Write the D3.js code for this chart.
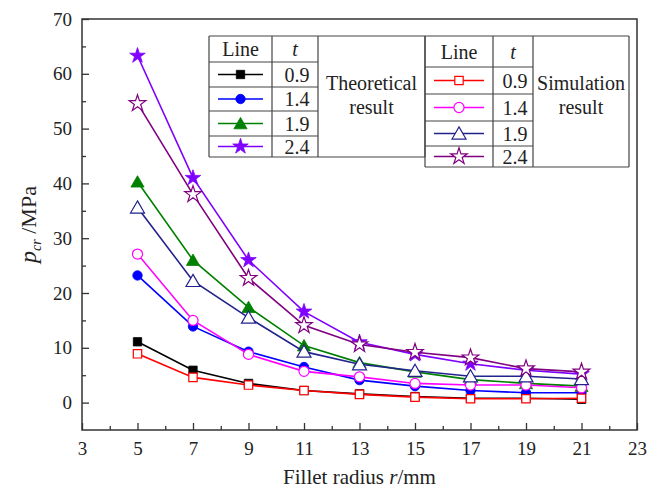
<!DOCTYPE html>
<html><head><meta charset="utf-8">
<script src="https://cdn.jsdelivr.net/npm/d3@7"></script>
<style>body{margin:0;background:#fff}svg{display:block;font-family:"Liberation Serif","Times New Roman",serif}</style>
</head><body><svg id="c" width="657" height="490"></svg>
<script>
// ---- data ----
const radii = [5, 7, 9, 11, 13, 15, 17, 19, 21];
const thicknesses = ["0.9", "1.4", "1.9", "2.4"];
const theo09 = [11.1, 5.9, 3.5, 2.2, 1.6, 1.1, 0.8, 0.8, 0.6];
const theo14 = [23.2, 13.9, 9.3, 6.5, 4.1, 3.0, 2.2, 1.8, 1.8];
const theo19 = [40.3, 26.0, 17.4, 10.4, 7.3, 5.6, 4.2, 3.5, 3.0];
const theo24 = [63.3, 41.0, 26.0, 16.6, 11.0, 8.8, 7.1, 5.9, 5.2];
const sim09 = [8.9, 4.6, 3.2, 2.2, 1.5, 1.0, 0.7, 0.7, 0.8];
const sim14 = [27.1, 15.0, 8.8, 5.7, 4.7, 3.5, 3.2, 3.2, 2.7];
const sim19 = [35.6, 22.2, 15.5, 9.3, 7.0, 5.8, 4.8, 4.8, 4.3];
const sim24 = [54.6, 38.0, 22.7, 14.1, 10.6, 9.2, 8.2, 6.2, 5.6];
const xTickValues = [3, 5, 7, 9, 11, 13, 15, 17, 19, 21, 23];
const yTickValues = [0, 10, 20, 30, 40, 50, 60, 70];
const xTitle = ["Fillet radius ", "r", "/mm"];
const yTitle = ["p", "cr", " /MPa"];
const legendHeads = ["Line", "t"];
const groupLabels = [["Theoretical", "result"], ["Simulation", "result"]];

// ---- styles ----
const theoSeries = [
  {v: theo09, c: "#000000", s: d3.symbolSquare, a: 70, fill: true},
  {v: theo14, c: "#0000ff", s: d3.symbolCircle, a: 70, fill: true},
  {v: theo19, c: "#008000", s: d3.symbolTriangle, a: 75, fill: true},
  {v: theo24, c: "#7f00ff", s: d3.symbolStar, a: 75, fill: true}
];
const simSeries = [
  {v: sim09, c: "#ff0000", s: d3.symbolSquare, a: 70, fill: false},
  {v: sim14, c: "#ff00ff", s: d3.symbolCircle, a: 80, fill: false},
  {v: sim19, c: "#22228c", s: d3.symbolTriangle, a: 85, fill: false},
  {v: sim24, c: "#800080", s: d3.symbolStar, a: 85, fill: false}
];

const svg = d3.select("#c");
const X0 = 82, X1 = 637, Y0 = 430, Y1 = 19;
const x = d3.scaleLinear().domain([3, 23]).range([X0, X1]);
const y = d3.scaleLinear().domain([-5, 70]).range([Y0, Y1]);

// axes (ticks inward)
const xAxis = d3.axisBottom(x).tickValues(xTickValues).tickSize(-7).tickPadding(12).tickFormat(d3.format("d"));
const gx = svg.append("g").attr("transform", `translate(0,${Y0})`).call(xAxis);
const xMinor = d3.axisBottom(x).tickValues(d3.range(4, 23, 2)).tickSize(-4).tickFormat("");
svg.append("g").attr("transform", `translate(0,${Y0})`).call(xMinor);
const yAxis = d3.axisLeft(y).tickValues(yTickValues).tickSize(-7).tickPadding(10).tickFormat(d3.format("d"));
const gy = svg.append("g").attr("transform", `translate(${X0},0)`).call(yAxis);
const yMinor = d3.axisLeft(y).tickValues(d3.range(5, 70, 10)).tickSize(-4).tickFormat("");
svg.append("g").attr("transform", `translate(${X0},0)`).call(yMinor);
svg.selectAll(".domain").remove();
svg.selectAll(".tick line").attr("stroke", "#333").attr("stroke-width", 1.3);
svg.selectAll(".tick text").attr("font-size", 19).attr("fill", "#222").attr("font-family", "Liberation Serif");
gx.selectAll(".tick text").attr("dy", "0.71em");

svg.append("rect").attr("x", X0).attr("y", Y1).attr("width", X1 - X0).attr("height", Y0 - Y1)
  .attr("fill", "none").attr("stroke", "#333").attr("stroke-width", 1.5);

// titles
const xt = svg.append("text").attr("x", (X0 + X1) / 2).attr("y", 484).attr("text-anchor", "middle")
  .attr("font-size", 21).attr("fill", "#222");
xt.append("tspan").text(xTitle[0]);
xt.append("tspan").attr("font-style", "italic").text(xTitle[1]);
xt.append("tspan").text(xTitle[2]);

const yt = svg.append("text").attr("transform", `translate(36,${(Y0 + Y1) / 2}) rotate(-90)`)
  .attr("text-anchor", "middle").attr("font-size", 22).attr("fill", "#222");
yt.append("tspan").attr("font-style", "italic").attr("font-size", 24).text(yTitle[0]);
yt.append("tspan").attr("font-style", "italic").attr("font-size", 14).attr("dy", 5).text(yTitle[1]);
yt.append("tspan").attr("dy", -5).text(yTitle[2]);

// series
const line = d3.line().x((d, i) => x(radii[i])).y(d => y(d));
function drawSeries(S) {
  S.forEach(s => {
    svg.append("path").datum(s.v).attr("d", line).attr("fill", "none")
      .attr("stroke", s.c).attr("stroke-width", 1.6);
  });
}
function marker(sel, s) {
  sel.attr("d", d3.symbol().type(s.s).size(s.a))
    .attr("fill", s.fill ? s.c : "#fff")
    .attr("stroke", s.c).attr("stroke-width", s.fill ? 0.8 : 1.2);
}
function drawMarkers(S) {
  S.forEach(s => {
    svg.append("g").selectAll("path").data(s.v).join("path")
      .attr("transform", (d, i) => `translate(${x(radii[i])},${y(d) + (s.s === d3.symbolTriangle ? 1.5 : 0)})`)
      .call(marker, s);
  });
}
drawSeries(theoSeries);
drawMarkers(theoSeries);
drawSeries(simSeries);
drawMarkers(simSeries);

// legend tables
const L = svg.append("g").attr("font-size", 20).attr("fill", "#222");
function table(cols, rows, series, labels) {
  const g = L.append("g");
  const ln = (x1, y1, x2, y2) => g.append("line").attr("x1", x1).attr("y1", y1).attr("x2", x2).attr("y2", y2)
    .attr("stroke", "#444").attr("stroke-width", 1.2);
  const last = rows[rows.length - 1];
  rows.forEach(r => ln(cols[0], r, cols[2], r));
  ln(cols[2], rows[0], cols[3], rows[0]);
  ln(cols[2], last, cols[3], last);
  cols.forEach(c => ln(c, rows[0], c, last));
  g.append("text").attr("x", (cols[0] + cols[1]) / 2).attr("y", (rows[0] + rows[1]) / 2 + 7).attr("text-anchor", "middle").text(legendHeads[0]);
  g.append("text").attr("x", (cols[1] + cols[2]) / 2).attr("y", (rows[0] + rows[1]) / 2 + 7).attr("text-anchor", "middle").attr("font-style", "italic").text(legendHeads[1]);
  series.forEach((s, i) => {
    const cy = (rows[i + 1] + rows[i + 2]) / 2;
    g.append("line").attr("x1", cols[0] + 9).attr("x2", cols[1] - 9).attr("y1", cy).attr("y2", cy).attr("stroke", s.c).attr("stroke-width", 1.6);
    g.append("path").attr("transform", `translate(${(cols[0] + cols[1]) / 2},${cy + (s.s === d3.symbolTriangle ? 1.5 : 0)})`).call(marker, s);
    g.append("text").attr("x", (cols[1] + cols[2]) / 2 + 2).attr("y", cy + 7).attr("text-anchor", "middle").text(thicknesses[i]);
  });
  g.append("text").attr("x", (cols[2] + cols[3]) / 2).attr("y", 90).attr("text-anchor", "middle").text(labels[0]);
  g.append("text").attr("x", (cols[2] + cols[3]) / 2).attr("y", 114).attr("text-anchor", "middle").text(labels[1]);
}
table([209, 272, 318, 425], [36, 62, 87, 111, 136, 157], theoSeries, groupLabels[0]);
table([425, 493, 533, 629], [36, 67, 94, 121, 146, 167], simSeries, groupLabels[1]);
</script></body></html>
